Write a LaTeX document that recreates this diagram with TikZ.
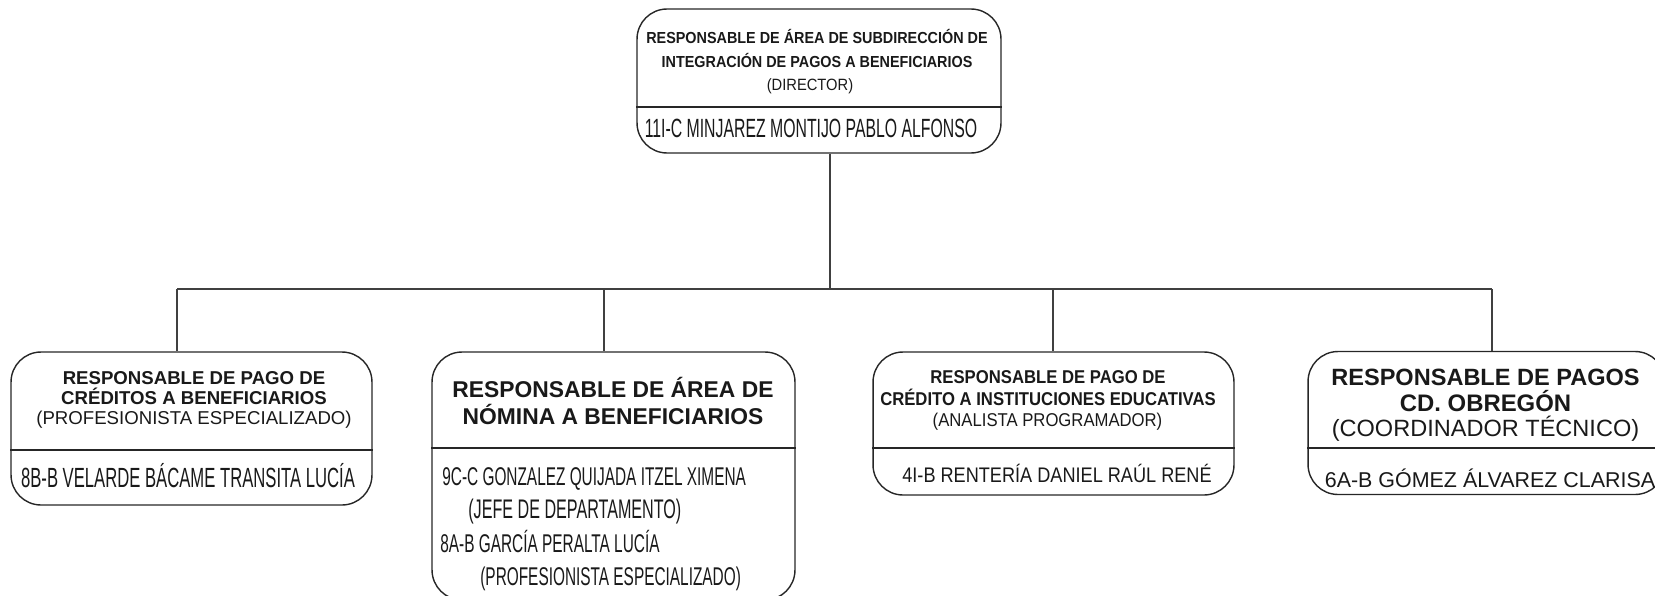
\documentclass[tikz,border=0pt]{standalone}
\usepackage{fontspec}
\setmainfont{Liberation Sans}
\newfontfamily\angosta[FakeStretch=0.6]{Liberation Sans}
\newfontfamily\media[FakeStretch=0.86]{Liberation Sans}
\newfontfamily\estrecha[FakeStretch=0.9]{Liberation Sans}
\newcommand{\tam}[1]{\fontsize{#1}{#1}\selectfont}
\tikzset{
  caja/.style={draw=black!85, line width=0.8pt, rounded corners=0.6cm},
  linea/.style={draw=black!85, line width=0.8pt},
  conector/.style={draw=black!75, line width=0.7pt},
  texto/.style={inner sep=0pt, anchor=base, text=black!90}
}
\begin{document}
\begin{tikzpicture}[x=0.02cm, y=-0.02cm]
\useasboundingbox (0,0) rectangle (1655,595);
\clip (0,0) rectangle (1655,595);
% Cajas
\node[caja, minimum width=7.28cm, minimum height=2.88cm] (dir) at (819,81) {};
\node[caja, minimum width=7.22cm, minimum height=3.06cm] (cred) at (191.5,428.5) {};
\node[caja, minimum width=7.26cm, minimum height=4.96cm] (nom) at (613.5,476) {};
\node[caja, minimum width=7.22cm, minimum height=2.86cm] (inst) at (1053.5,423.5) {};
\node[caja, minimum width=7.14cm, minimum height=2.86cm] (obr) at (1486.5,423) {};
% Divisiones
\draw[linea] (dir.west |- 0,107) -- (dir.east |- 0,107);
\draw[linea] (cred.west |- 0,450) -- (cred.east |- 0,450);
\draw[linea] (nom.west |- 0,448) -- (nom.east |- 0,448);
\draw[linea] (inst.west |- 0,448) -- (inst.east |- 0,448);
\draw[linea] (obr.west |- 0,448) -- (obr.east |- 0,448);
% Conectores
\coordinate (bus) at (830,289);
\coordinate (c1) at (177,289);
\coordinate (c2) at (604,289);
\coordinate (c3) at (1053,289);
\coordinate (c4) at (1492,289);
\draw[conector] (dir.south -| bus) -- (bus);
\draw[conector] (c1) -- (c4);
\draw[conector] (c1) -- (c1 |- cred.north);
\draw[conector] (c2) -- (c2 |- nom.north);
\draw[conector] (c3) -- (c3 |- inst.north);
\draw[conector] (c4) -- (c4 |- obr.north);
% Director
\node[texto, font=\estrecha\bfseries\tam{9.1}] (dir1) at (817,43.7) {RESPONSABLE DE ÁREA DE SUBDIRECCIÓN DE};
\node[texto, font=\estrecha\bfseries\tam{9.1}] (dir2) at (817,67.7) {INTEGRACIÓN DE PAGOS A BENEFICIARIOS};
\node[texto, font=\estrecha\tam{9.3}] (dir3) at (810,90.7) {(DIRECTOR)};
\node[texto, font=\angosta\tam{15}] (dirn) at (811,137.5) {11I-C MINJAREZ MONTIJO PABLO ALFONSO};
% Creditos
\node[texto, font=\bfseries\tam{10.6}] (cred1) at (194,384.7) {RESPONSABLE DE PAGO DE};
\node[texto, font=\bfseries\tam{10.6}] (cred2) at (194,404.7) {CRÉDITOS A BENEFICIARIOS};
\node[texto, font=\tam{10.6}] (cred3) at (194,424.7) {(PROFESIONISTA ESPECIALIZADO)};
\node[texto, font=\angosta\tam{15.8}] (credn) at (188,487) {8B-B VELARDE BÁCAME TRANSITA LUCÍA};
% Nomina
\node[texto, font=\bfseries\tam{13}] (nom1) at (613,397) {RESPONSABLE DE ÁREA DE};
\node[texto, font=\bfseries\tam{13}] (nom2) at (613,424) {NÓMINA A BENEFICIARIOS};
\node[texto, anchor=base west, font=\angosta\tam{14.6}] (nomn1) at (442,485) {9C-C GONZALEZ QUIJADA ITZEL XIMENA};
\node[texto, anchor=base west, font=\angosta\tam{15.3}] (nomp1) at (468,518) {(JEFE DE DEPARTAMENTO)};
\node[texto, anchor=base west, font=\angosta\tam{14.6}] (nomn2) at (440,552) {8A-B GARCÍA PERALTA LUCÍA};
\node[texto, anchor=base west, font=\angosta\tam{14.6}] (nomp2) at (480,585) {(PROFESIONISTA ESPECIALIZADO)};
% Instituciones
\node[texto, font=\estrecha\bfseries\tam{10.55}] (inst1) at (1048,383.3) {RESPONSABLE DE PAGO DE};
\node[texto, font=\estrecha\bfseries\tam{10.55}] (inst2) at (1048,405.3) {CRÉDITO A INSTITUCIONES EDUCATIVAS};
\node[texto, font=\estrecha\tam{10.55}] (inst3) at (1047.5,426.3) {(ANALISTA PROGRAMADOR)};
\node[texto, font=\media\tam{12}] (instn) at (1057,482.5) {4I-B RENTERÍA DANIEL RAÚL RENÉ};
% Obregon
\node[texto, font=\bfseries\tam{13.4}] (obr1) at (1485.5,385.5) {RESPONSABLE DE PAGOS};
\node[texto, font=\bfseries\tam{13.6}] (obr2) at (1485.5,411) {CD. OBREGÓN};
\node[texto, font=\tam{13.4}] (obr3) at (1485.5,436.5) {(COORDINADOR TÉCNICO)};
\node[texto, font=\tam{12.2}] (obrn) at (1490,487) {6A-B GÓMEZ ÁLVAREZ CLARISA};
\end{tikzpicture}
\end{document}
